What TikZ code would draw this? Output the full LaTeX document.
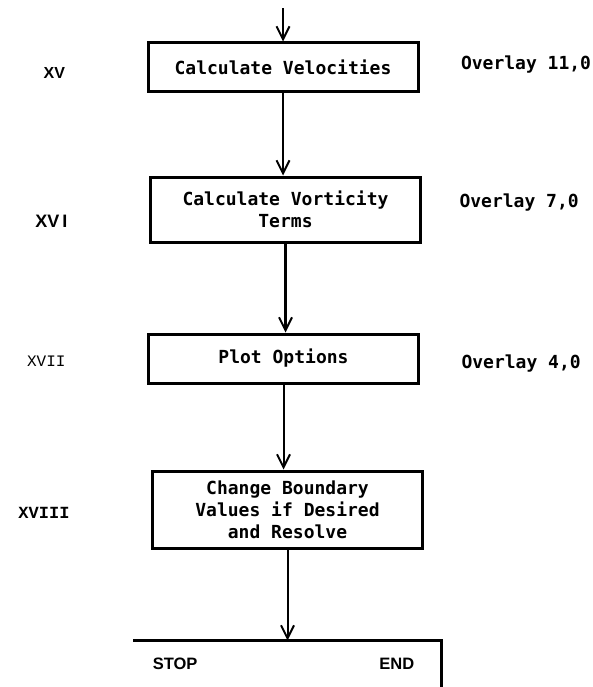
\documentclass[tikz,border=0pt]{standalone}
\usepackage{fontspec}
\setmonofont{DejaVu Sans Mono}
\newfontfamily\sanslabel{Liberation Sans}
\newfontfamily\courlabel{Liberation Mono}
\usetikzlibrary{arrows.meta, positioning}

\begin{document}
\begin{tikzpicture}[
    x=1pt, y=1pt,
    block/.style={rectangle, draw, line width=3pt, minimum width=270pt, align=center, font=\ttfamily\bfseries\fontsize{18}{22}\selectfont},
    arrow/.style={line width=2pt, -{Straight Barb[length=13pt,width=13pt,line width=2pt]}},
    overlaytag/.style={font=\ttfamily\bfseries\fontsize{18}{22}\selectfont, anchor=west},
    sectlabel/.style={anchor=east}
]
\useasboundingbox (0,0) rectangle (593,-687);

% Main blocks
\node[block, minimum height=49pt] (vel) at (283,-67.5) {Calculate Velocities};
\node[block, minimum height=65pt, below=82pt of vel, xshift=2.5pt] (vort) {Calculate Vorticity\\Terms};
\node[block, minimum height=49pt, below=89pt of vort, xshift=-2pt] (plot) {Plot Options};
\node[block, minimum height=77pt, below=85pt of plot, xshift=4pt] (bound) {Change Boundary\\Values if Desired\\and Resolve};
\node[minimum width=308pt, minimum height=52pt, inner sep=0pt, below=91pt of bound] (stop) {};
\node[anchor=west, font=\sanslabel\bfseries\fontsize{16.5}{16.5}\selectfont, right=16pt of stop.west, yshift=3pt] (stoptxt) {STOP};
\node[anchor=east, font=\sanslabel\bfseries\fontsize{16.5}{16.5}\selectfont, left=24pt of stop.east, yshift=3pt] (endtxt) {END};

% Section numbers
\node[sectlabel, font=\sanslabel\bfseries\fontsize{16}{16}\selectfont, left=78pt of vel, yshift=-5.5pt] (s15) {XV};
\node[sectlabel, font=\sanslabel\bfseries\fontsize{18}{18}\selectfont, left=78pt of vort, yshift=-11.5pt] (s16) {XV\,I};
\node[sectlabel, font=\courlabel\fontsize{16}{16}\selectfont, left=78pt of plot, yshift=-2.5pt] (s17) {XVII};
\node[sectlabel, font=\courlabel\bfseries\fontsize{17}{17}\selectfont, left=78pt of bound, yshift=-3.5pt] (s18) {XVIII};

% Overlay numbers
\node[overlaytag, right=38pt of vel, yshift=2.5pt] (ov11) {Overlay 11,0};
\node[overlaytag, right=34pt of vort, yshift=6.5pt] (ov7) {Overlay 7,0};
\node[overlaytag, right=38pt of plot, yshift=-5.5pt] (ov4) {Overlay 4,0};

% Connections
\coordinate[above=33pt of vel] (entry);
\draw[arrow] (entry) -- (vel.north);
\draw[arrow] (vel.south) -- (vel.south |- vort.north);
\draw[arrow, line width=2.6pt] (vort.south) -- (vort.south |- plot.north);
\draw[arrow] (plot.south) -- (plot.south |- bound.north);
\draw[arrow] (bound.south) -- (bound.south |- stop.north);

% Last block, open below
\draw[line width=3pt] (stop.north west) -- (stop.north east) -- (stop.south east);

\end{tikzpicture}
\end{document}
